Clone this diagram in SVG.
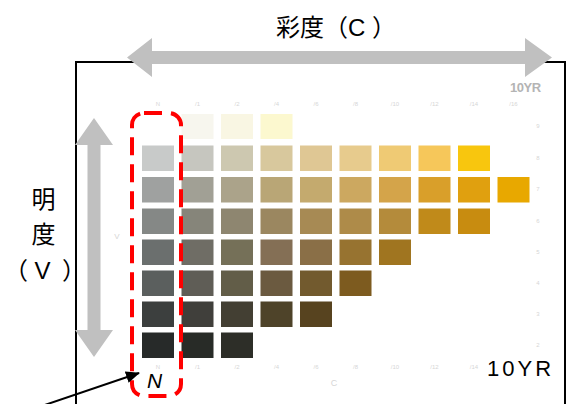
<svg xmlns="http://www.w3.org/2000/svg" width="574" height="404" viewBox="0 0 574 404">
<defs>
<style>
.sw{stroke:none}
.tk{font-family:"Liberation Sans",sans-serif;font-size:6px;fill:#d6d6d6;text-anchor:middle}
.lbl{font-family:"Liberation Sans","Noto Sans CJK JP",sans-serif;fill:#000}
.cjk{font-family:"Noto Sans CJK JP","Liberation Sans",sans-serif;fill:#000;font-size:24px}
.gar{fill:#c0c0c0}
</style>
<marker id="ah" markerWidth="14" markerHeight="12" refX="13" refY="6" orient="auto" markerUnits="userSpaceOnUse">
<path d="M0,0 L14,6 L0,12 Z" fill="#000"/>
</marker>
</defs>
<rect width="574" height="404" fill="#fff"/>
<g id="frame">
<path d="M76,410 L76,62 L565,62 L565,410" fill="none" stroke="#000" stroke-width="2"/>
</g>
<g id="chart">
<g id="row0">
<rect class="sw" x="181.5" y="114" width="32" height="25" fill="#f7f6ee"/>
<rect class="sw" x="221" y="114" width="32" height="25" fill="#f9f6e3"/>
<rect class="sw" x="260.5" y="114" width="32" height="25" fill="#fcf8cf"/>
</g>
<g id="row1">
<rect class="sw" x="142" y="145.5" width="32" height="25.5" fill="#c8cac9"/>
<rect class="sw" x="181.5" y="145.5" width="32" height="25.5" fill="#c6c6bf"/>
<rect class="sw" x="221" y="145.5" width="32" height="25.5" fill="#cdc8b0"/>
<rect class="sw" x="260.5" y="145.5" width="32" height="25.5" fill="#d8c89d"/>
<rect class="sw" x="300" y="145.5" width="32" height="25.5" fill="#dfc794"/>
<rect class="sw" x="339.5" y="145.5" width="32" height="25.5" fill="#e7cb8d"/>
<rect class="sw" x="379" y="145.5" width="32" height="25.5" fill="#efca74"/>
<rect class="sw" x="418.5" y="145.5" width="32" height="25.5" fill="#f6c75a"/>
<rect class="sw" x="458" y="145.5" width="32" height="25.5" fill="#f8c60e"/>
</g>
<g id="row2">
<rect class="sw" x="142" y="177" width="32" height="25.5" fill="#9fa1a0"/>
<rect class="sw" x="181.5" y="177" width="32" height="25.5" fill="#a1a095"/>
<rect class="sw" x="221" y="177" width="32" height="25.5" fill="#aba38a"/>
<rect class="sw" x="260.5" y="177" width="32" height="25.5" fill="#b9a676"/>
<rect class="sw" x="300" y="177" width="32" height="25.5" fill="#c4aa6e"/>
<rect class="sw" x="339.5" y="177" width="32" height="25.5" fill="#cca860"/>
<rect class="sw" x="379" y="177" width="32" height="25.5" fill="#d4a44a"/>
<rect class="sw" x="418.5" y="177" width="32" height="25.5" fill="#d99f2a"/>
<rect class="sw" x="458" y="177" width="32" height="25.5" fill="#e0a00f"/>
<rect class="sw" x="497.5" y="177" width="32" height="25.5" fill="#e8a800"/>
</g>
<g id="row3">
<rect class="sw" x="142" y="208.5" width="32" height="25.5" fill="#858886"/>
<rect class="sw" x="181.5" y="208.5" width="32" height="25.5" fill="#86857a"/>
<rect class="sw" x="221" y="208.5" width="32" height="25.5" fill="#8e8670"/>
<rect class="sw" x="260.5" y="208.5" width="32" height="25.5" fill="#9b8760"/>
<rect class="sw" x="300" y="208.5" width="32" height="25.5" fill="#a78a54"/>
<rect class="sw" x="339.5" y="208.5" width="32" height="25.5" fill="#ae8b49"/>
<rect class="sw" x="379" y="208.5" width="32" height="25.5" fill="#b48b3b"/>
<rect class="sw" x="418.5" y="208.5" width="32" height="25.5" fill="#c08a1a"/>
<rect class="sw" x="458" y="208.5" width="32" height="25.5" fill="#c88c10"/>
</g>
<g id="row4">
<rect class="sw" x="142" y="239.5" width="32" height="25.5" fill="#6b6f6e"/>
<rect class="sw" x="181.5" y="239.5" width="32" height="25.5" fill="#6f6d65"/>
<rect class="sw" x="221" y="239.5" width="32" height="25.5" fill="#757058"/>
<rect class="sw" x="260.5" y="239.5" width="32" height="25.5" fill="#846f55"/>
<rect class="sw" x="300" y="239.5" width="32" height="25.5" fill="#8a6f47"/>
<rect class="sw" x="339.5" y="239.5" width="32" height="25.5" fill="#977330"/>
<rect class="sw" x="379" y="239.5" width="32" height="25.5" fill="#a07520"/>
</g>
<g id="row5">
<rect class="sw" x="142" y="270.5" width="32" height="25.5" fill="#5b5f5e"/>
<rect class="sw" x="181.5" y="270.5" width="32" height="25.5" fill="#5f5d56"/>
<rect class="sw" x="221" y="270.5" width="32" height="25.5" fill="#625d48"/>
<rect class="sw" x="260.5" y="270.5" width="32" height="25.5" fill="#6b5a40"/>
<rect class="sw" x="300" y="270.5" width="32" height="25.5" fill="#725a2e"/>
<rect class="sw" x="339.5" y="270.5" width="32" height="25.5" fill="#7d5b1f"/>
</g>
<g id="row6">
<rect class="sw" x="142" y="301.5" width="32" height="25.5" fill="#3c3f3e"/>
<rect class="sw" x="181.5" y="301.5" width="32" height="25.5" fill="#403f3b"/>
<rect class="sw" x="221" y="301.5" width="32" height="25.5" fill="#433f33"/>
<rect class="sw" x="260.5" y="301.5" width="32" height="25.5" fill="#4e4329"/>
<rect class="sw" x="300" y="301.5" width="32" height="25.5" fill="#57431f"/>
</g>
<g id="row7">
<rect class="sw" x="142" y="332.5" width="32" height="25.5" fill="#272a29"/>
<rect class="sw" x="181.5" y="332.5" width="32" height="25.5" fill="#282b27"/>
<rect class="sw" x="221" y="332.5" width="32" height="25.5" fill="#2d2e28"/>
</g>
<g id="ticks">
<text class="tk" x="158" y="106">N</text>
<text class="tk" x="197.5" y="106">/1</text>
<text class="tk" x="237" y="106">/2</text>
<text class="tk" x="276.5" y="106">/4</text>
<text class="tk" x="316" y="106">/6</text>
<text class="tk" x="355.5" y="106">/8</text>
<text class="tk" x="395" y="106">/10</text>
<text class="tk" x="434.5" y="106">/12</text>
<text class="tk" x="474" y="106">/14</text>
<text class="tk" x="513.5" y="106">/16</text>
<text class="tk" x="158" y="369">N</text>
<text class="tk" x="197.5" y="369">/1</text>
<text class="tk" x="237" y="369">/2</text>
<text class="tk" x="276.5" y="369">/4</text>
<text class="tk" x="316" y="369">/6</text>
<text class="tk" x="355.5" y="369">/8</text>
<text class="tk" x="395" y="369">/10</text>
<text class="tk" x="434.5" y="369">/12</text>
<text class="tk" x="474" y="369">/14</text>
<text class="tk" x="538" y="128">9</text>
<text class="tk" x="538" y="160">8</text>
<text class="tk" x="538" y="191">7</text>
<text class="tk" x="538" y="223">6</text>
<text class="tk" x="538" y="254">5</text>
<text class="tk" x="538" y="285">4</text>
<text class="tk" x="538" y="316">3</text>
<text class="tk" x="538" y="347">2</text>
<text class="tk" x="117" y="239" style="font-size:8px">V</text>
<text class="tk" x="334" y="386" style="font-size:9px">C</text>
<text x="510" y="92" style="font-family:'Liberation Sans',sans-serif;font-size:13px;font-weight:bold;fill:#b4b4b4;letter-spacing:-0.5px">10YR</text>
</g>
</g>
<g id="chroma-arrow">
<path class="gar" d="M127,57.5 L152,38 L152,51 L525,51 L525,38 L552,57.5 L525,77 L525,64 L152,64 L152,77 Z"/>
</g>
<g id="value-arrow">
<path class="gar" d="M94,118 L113,145 L100.5,145 L100.5,330 L113,330 L94,357 L75,330 L87.5,330 L87.5,145 L75,145 Z"/>
</g>
<g id="neutral-box">
<rect x="132" y="113" width="49" height="283" rx="12" ry="12" fill="none" stroke="#ff0000" stroke-width="4" stroke-dasharray="18 9"/>
</g>
<g id="labels">
<text class="cjk" y="36"><tspan x="276">彩度（</tspan><tspan class="lbl" x="348">C</tspan><tspan x="372">）</tspan></text>
<text class="cjk" x="31.5" y="208">明</text>
<text class="cjk" x="31.5" y="243">度</text>
<text class="cjk" y="279"><tspan x="4">（</tspan><tspan class="lbl" x="34.5">V</tspan><tspan x="62">）</tspan></text>
<text class="lbl" x="147" y="388" style="font-size:21px;font-style:italic">N</text>
<text class="lbl" x="487" y="376" style="font-size:22px;letter-spacing:3px">10YR</text>
</g>
<g id="connectors">
<line x1="30" y1="410" x2="139" y2="373" stroke="#000" stroke-width="2" marker-end="url(#ah)"/>
</g>
</svg>
